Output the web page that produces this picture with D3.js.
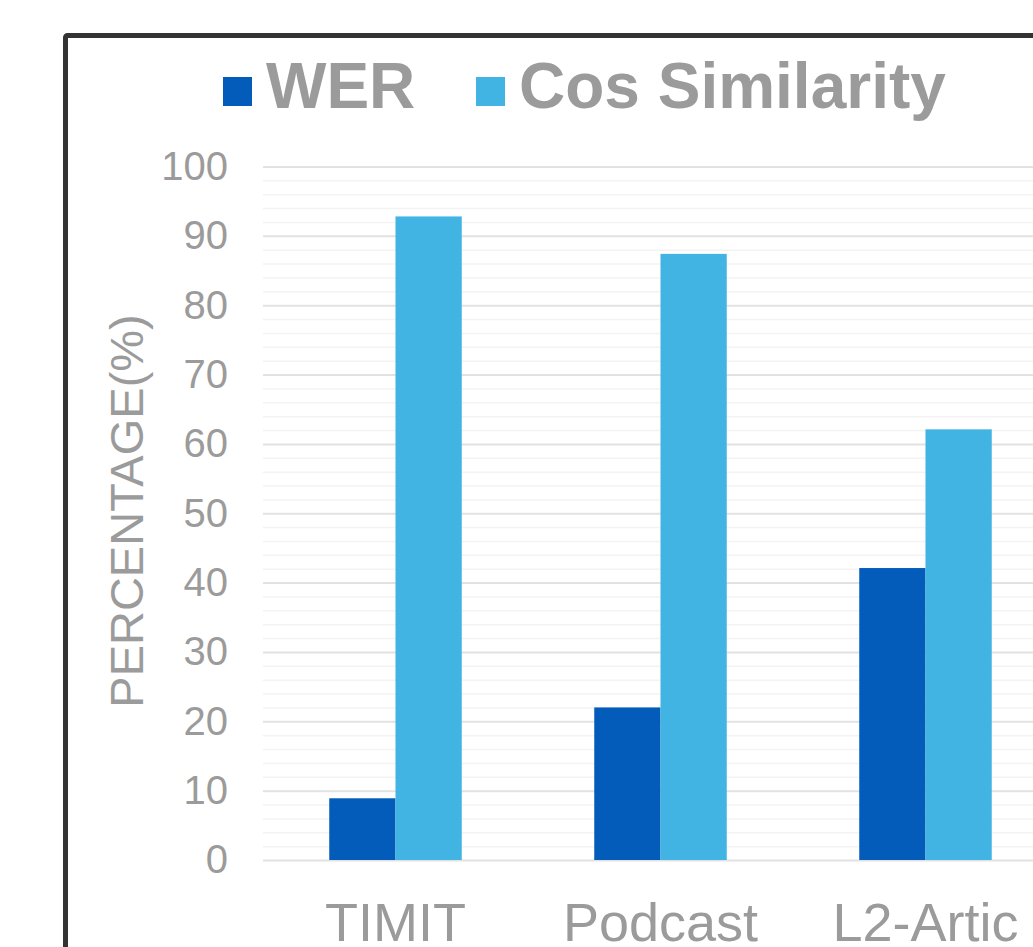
<!DOCTYPE html>
<html>
<head>
<meta charset="utf-8">
<script src="https://cdn.jsdelivr.net/npm/d3@7"></script>
<style>
  html, body { margin: 0; padding: 0; background: #fff; }
  svg { display: block; }
</style>
</head>
<body>
<svg id="chart" width="1033" height="947"></svg>
<script>
const categories = ["TIMIT", "Podcast", "L2-Artic"];
const seriesNames = ["WER", "Cos Similarity"];
const werValues = [8.9, 22.0, 42.1];
const cosValues = [92.8, 87.4, 62.1];
const yTicks = [0, 10, 20, 30, 40, 50, 60, 70, 80, 90, 100];
const yMinorTicks = [2,4,6,8,12,14,16,18,22,24,26,28,32,34,36,38,42,44,46,48,52,54,56,58,62,64,66,68,72,74,76,78,82,84,86,88,92,94,96,98];
const colors = ["#035bba", "#41b4e4"];
const yLabel = "PERCENTAGE(%)";

const svg = d3.select("#chart");
const font = "'Liberation Sans', Arial, sans-serif";
const textColor = "#9b9b9b";

const plotLeft = 263, plotRight = 1058, plotTop = 166.5, plotBottom = 860;

// chart border (cropped on right/bottom)
svg.append("rect")
  .attr("x", 65.5).attr("y", 35.5)
  .attr("width", 1100).attr("height", 1100)
  .attr("rx", 2)
  .attr("fill", "none").attr("stroke", "#333").attr("stroke-width", 5);

const x0 = d3.scaleBand().domain(categories).range([plotLeft, plotRight])
  .paddingInner(0.5).paddingOuter(0.25);
const x1 = d3.scaleBand().domain(seriesNames).range([0, x0.bandwidth()]);
const y = d3.scaleLinear().domain([0, 100]).range([plotBottom, plotTop]);

// minor gridlines
svg.append("g")
  .attr("transform", `translate(${plotLeft},0)`)
  .call(d3.axisRight(y).tickValues(yMinorTicks).tickSize(plotRight - plotLeft).tickFormat(""))
  .call(g => g.select(".domain").remove())
  .call(g => g.selectAll("line").attr("stroke", "#f3f3f3").attr("stroke-width", 1.5));

// major gridlines
svg.append("g")
  .attr("transform", `translate(${plotLeft},0)`)
  .call(d3.axisRight(y).tickValues(yTicks).tickSize(plotRight - plotLeft).tickFormat(""))
  .call(g => g.select(".domain").remove())
  .call(g => g.selectAll("line").attr("stroke", "#e2e2e2").attr("stroke-width", 2));

// y axis labels
svg.append("g")
  .attr("transform", `translate(${plotLeft},0)`)
  .call(d3.axisLeft(y).tickValues(yTicks).tickSize(0).tickPadding(35).tickFormat(d3.format("d")))
  .call(g => g.select(".domain").remove())
  .call(g => g.selectAll("text")
    .attr("fill", textColor).attr("font-family", font).attr("font-size", 40));

// bars
const data = categories.map((c, i) => ({ cat: c, vals: [werValues[i], cosValues[i]] }));
const groups = svg.append("g").selectAll("g").data(data).join("g")
  .attr("transform", d => `translate(${x0(d.cat)},0)`);
groups.selectAll("rect")
  .data(d => d.vals.map((v, j) => ({ s: seriesNames[j], v, j })))
  .join("rect")
  .attr("x", d => x1(d.s))
  .attr("y", d => y(d.v))
  .attr("width", x1.bandwidth())
  .attr("height", d => y(0) - y(d.v))
  .attr("fill", d => colors[d.j]);

// x axis labels
svg.append("g")
  .attr("transform", `translate(0,${plotBottom})`)
  .call(d3.axisBottom(x0).tickSize(0).tickPadding(0))
  .call(g => g.select(".domain").remove())
  .call(g => g.selectAll("text")
    .attr("dy", null).attr("y", 81)
    .attr("fill", textColor).attr("font-family", font).attr("font-size", 54));

// y axis title
svg.append("text")
  .attr("transform", `translate(143,511) rotate(-90)`)
  .attr("text-anchor", "middle")
  .attr("fill", textColor).attr("font-family", font).attr("font-size", 47)
  .text(yLabel);

// legend
const legendItems = [
  { name: seriesNames[0], color: colors[0], sx: 223, tx: 266 },
  { name: seriesNames[1], color: colors[1], sx: 476, tx: 519 }
];
const lg = svg.append("g");
legendItems.forEach(it => {
  lg.append("rect").attr("x", it.sx).attr("y", 77).attr("width", 29).attr("height", 29).attr("fill", it.color);
  lg.append("text").attr("x", it.tx).attr("y", 107.5)
    .attr("fill", textColor).attr("font-family", font).attr("font-weight", "bold").attr("font-size", 64)
    .text(it.name);
});
</script>
</body>
</html>
